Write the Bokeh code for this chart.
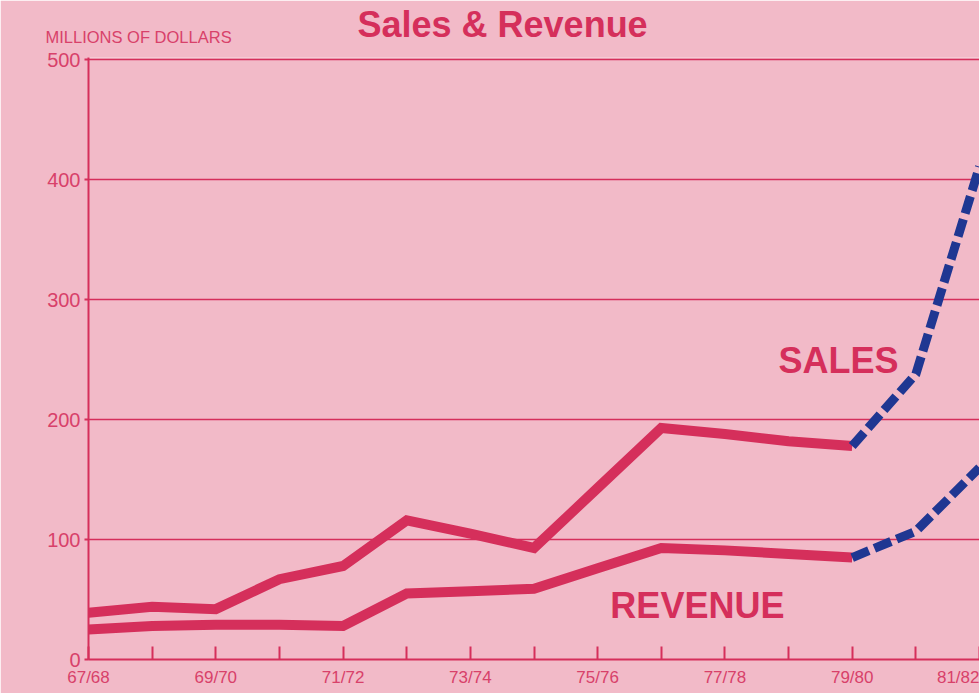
from bokeh.plotting import figure
from bokeh.models import Range1d, FixedTicker, Label, Title
from bokeh.embed import file_html
from bokeh.resources import INLINE

# ---------------- data ----------------
periods = ["67/68", "68/69", "69/70", "70/71", "71/72", "72/73", "73/74", "74/75",
           "75/76", "76/77", "77/78", "78/79", "79/80", "80/81", "81/82"]
sales_actual = [39, 44, 42, 67, 78, 116, 105, 93, 143, 193, 188, 182, 178]
revenue_actual = [25, 28, 29, 29, 28, 55, 57, 59, 76, 93, 91, 88, 85]
sales_projected = [178, 238, 411]      # 79/80 .. 81/82
revenue_projected = [85, 107, 160]     # 79/80 .. 81/82
y_ticks = [0, 100, 200, 300, 400, 500]
labelled_periods = periods[::2]

# ---------------- style ----------------
BG = "#f2bac8"
RED = "#d52f5b"
BLUE = "#1f3792"
TXT = "#d8416a"
FONT = "Liberation Sans"

x_act = list(range(len(sales_actual)))
x_proj = list(range(len(sales_actual) - 1, len(sales_actual) - 1 + len(sales_projected)))

p = figure(output_backend="svg", toolbar_location=None,
           frame_width=891, frame_height=602,
           min_border_left=88, min_border_right=0, min_border_top=57, min_border_bottom=34,
           x_range=Range1d(0, len(periods) - 1), y_range=Range1d(y_ticks[0], y_ticks[-1] + 2))
p.background_fill_color = BG
p.border_fill_color = BG
p.outline_line_color = None

# unit caption (inner title row, shifted left over the axis labels)
p.add_layout(Title(text="MILLIONS OF DOLLARS", text_font=FONT, text_font_size="16.5px",
                   text_font_style="normal", text_color=TXT, align="left",
                   offset=-43, standoff=23), "above")

# main title (outer row, pulled down to sit level with the caption)
p.title.text = "Sales & Revenue"
p.title.text_font = FONT
p.title.text_font_style = "bold"
p.title.text_font_size = "36px"
p.title.text_color = RED
p.title.align = "left"
p.title.offset = 269
p.title.standoff = -61

# x axis
p.xaxis.ticker = FixedTicker(ticks=list(range(len(periods))))
p.xaxis.major_label_overrides = {i: (lab if lab in labelled_periods else "")
                                 for i, lab in enumerate(periods)}
p.xaxis.axis_line_color = RED
p.xaxis.axis_line_width = 2
p.xaxis.major_tick_line_color = RED
p.xaxis.major_tick_line_width = 2
p.xaxis.major_tick_in = 13
p.xaxis.major_tick_out = 0
p.xaxis.minor_tick_line_color = None
p.xaxis.major_label_text_color = TXT
p.xaxis.major_label_text_font = FONT
p.xaxis.major_label_text_font_size = "17px"
p.xaxis.major_label_standoff = 8

# y axis
p.yaxis.ticker = FixedTicker(ticks=y_ticks)
p.yaxis.axis_line_color = RED
p.yaxis.axis_line_width = 2
p.yaxis.major_tick_line_color = RED
p.yaxis.major_tick_line_width = 2
p.yaxis.major_tick_in = 0
p.yaxis.major_tick_out = 4
p.yaxis.minor_tick_line_color = None
p.yaxis.major_label_text_color = TXT
p.yaxis.major_label_text_font = FONT
p.yaxis.major_label_text_font_size = "20px"
p.yaxis.major_label_standoff = 4

p.xgrid.grid_line_color = None
p.ygrid.ticker = FixedTicker(ticks=y_ticks[1:])
p.ygrid.grid_line_color = RED
p.ygrid.grid_line_width = 1.6

# lines
p.line(x_act, sales_actual, line_color=RED, line_width=10, line_join="miter")
p.line(x_act, revenue_actual, line_color=RED, line_width=10, line_join="miter")
p.line(x_proj, sales_projected, line_color=BLUE, line_width=9, line_dash="18 6", line_join="round")
p.line(x_proj, revenue_projected, line_color=BLUE, line_width=9, line_dash="18 6", line_join="round")

# series labels
p.add_layout(Label(x=10.84, y=249.2, text="SALES", text_font=FONT,
                   text_font_style="bold", text_font_size="36px", text_color=RED,
                   text_align="left", text_baseline="alphabetic"))
p.add_layout(Label(x=8.2, y=44.9, text="REVENUE", text_font=FONT,
                   text_font_style="bold", text_font_size="36px", text_color=RED,
                   text_align="left", text_baseline="alphabetic"))

open("out.html", "w").write(file_html(p, INLINE))
